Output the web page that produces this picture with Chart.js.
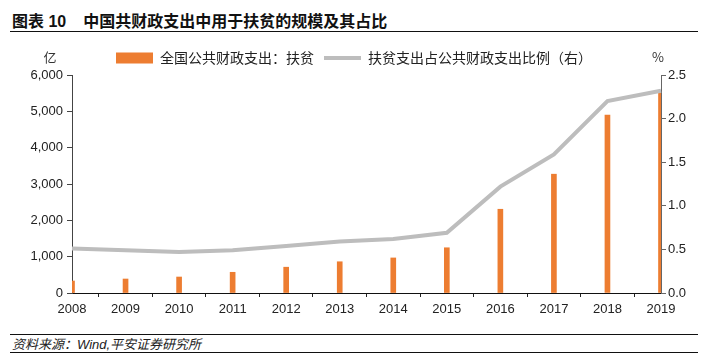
<!DOCTYPE html>
<html>
<head>
<meta charset="utf-8">
<script src="https://cdn.jsdelivr.net/npm/chart.js@4"></script>
<style>
    body { margin: 0; width: 708px; height: 364px; background: #fff; position: relative; overflow: hidden;
           font-family: "Liberation Sans", "Noto Sans CJK SC", sans-serif; color: #111; }
    .title { position: absolute; left: 12px; top: 8px; font-size: 16px; font-weight: bold; white-space: nowrap; }
    .title .num { margin-right: 17px; }
    .rule { position: absolute; left: 10px; width: 688px; height: 0; border-top: 1.5px solid #111; }
    .chart-box { position: absolute; left: 0; top: 35px; width: 708px; height: 295px; }
    .source { position: absolute; left: 12px; top: 334px; font-size: 13px; font-style: italic; color: #222; white-space: nowrap; }
</style>
</head>
<body>
<div class="title"><span class="num">图表 10</span>中国共财政支出中用于扶贫的规模及其占比</div>
<div class="rule" style="top:31px"></div>
<div class="chart-box"><canvas id="chart"></canvas></div>
<div class="rule" style="top:334px"></div>
<div class="source">资料来源：Wind,平安证券研究所</div>
<div class="rule" style="top:352px"></div>

<script>
// 数据
const years = ['2008', '2009', '2010', '2011', '2012', '2013', '2014', '2015', '2016', '2017', '2018', '2019'];
const povertySpending = [330, 385, 440, 570, 710, 860, 965, 1245, 2305, 3270, 4900, 5550];   // 亿元
const povertyShare = [0.51, 0.49, 0.47, 0.49, 0.54, 0.59, 0.62, 0.69, 1.22, 1.59, 2.20, 2.32]; // %
const leftTicks = [0, 1000, 2000, 3000, 4000, 5000, 6000];
const rightTicks = [0, 0.5, 1.0, 1.5, 2.0, 2.5];

const ORANGE = '#ED7D31';
const GREY = '#BDBDBD';
const NUM_FONT = { family: '"Liberation Sans", Arial, sans-serif', size: 13 };
const CJK_FONT = '"Noto Sans CJK SC", sans-serif';

// 坐标轴单位：亿 / %
const unitLabels = {
    id: 'unitLabels',
    afterDraw: function(chart) {
        const ctx = chart.ctx;
        const area = chart.chartArea;
        ctx.save();
        ctx.font = '13px ' + CJK_FONT;
        ctx.fillStyle = '#333';
        ctx.textAlign = 'center';
        ctx.textBaseline = 'middle';
        ctx.fillText('亿', chart.scales.y.right - 22, area.top - 18);
        ctx.fillText('%', chart.scales.y1.left - 3, area.top - 18);
        ctx.restore();
    }
};

const chart = new Chart(document.getElementById('chart').getContext('2d'), {
    type: 'bar',
    data: {
        labels: years,
        datasets: [
            {
                type: 'bar',
                label: '全国公共财政支出：扶贫',
                data: povertySpending,
                backgroundColor: ORANGE,
                borderWidth: 0,
                barThickness: 5,
                yAxisID: 'y',
                order: 1
            },
            {
                type: 'line',
                label: '扶贫支出占公共财政支出比例（右）',
                data: povertyShare,
                borderColor: GREY,
                backgroundColor: GREY,
                borderWidth: 4,
                pointRadius: 0,
                tension: 0,
                yAxisID: 'y1',
                order: 0
            }
        ]
    },
    options: {
        responsive: true,
        maintainAspectRatio: false,
        animation: false,
        layout: { padding: { top: 6, left: 0, right: 0, bottom: 0 } },
        plugins: {
            tooltip: { enabled: false },
            legend: {
                position: 'top',
                labels: {
                    font: { family: CJK_FONT, size: 14 },
                    color: '#222',
                    padding: 10,
                    boxWidth: 37,
                    boxHeight: 11,
                    usePointStyle: true,
                    pointStyleWidth: 37,
                    sort: function(a, b) { return a.datasetIndex - b.datasetIndex; },
                    generateLabels: function(chart) {
                        const items = Chart.defaults.plugins.legend.labels.generateLabels(chart);
                        items.forEach(item => {
                            item.pointStyle = item.datasetIndex === 0 ? 'rect' : 'line';
                        });
                        return items;
                    }
                }
            }
        },
        scales: {
            x: {
                offset: false,
                grid: { display: true, drawOnChartArea: false, drawTicks: true, tickLength: 4, color: '#222' },
                border: { display: true, color: '#111', width: 1 },
                ticks: { font: NUM_FONT, color: '#222', padding: 5, maxRotation: 0, autoSkip: false },
                afterFit: function(scale) { scale.height = 37; }
            },
            y: {
                position: 'left',
                min: 0,
                max: 6000,
                afterBuildTicks: function(scale) { scale.ticks = leftTicks.map(v => ({ value: v })); },
                grid: { display: true, drawOnChartArea: false, drawTicks: true, tickLength: 5, color: '#444' },
                border: { display: true, color: '#444', width: 1 },
                ticks: {
                    font: NUM_FONT,
                    color: '#222',
                    padding: 4,
                    callback: function(value) { return value.toLocaleString('en-US'); }
                },
                afterFit: function(scale) { scale.width = 72; }
            },
            y1: {
                position: 'right',
                min: 0,
                max: 2.5,
                afterBuildTicks: function(scale) { scale.ticks = rightTicks.map(v => ({ value: v })); },
                grid: { display: true, drawOnChartArea: false, drawTicks: true, tickLength: 5, color: '#666' },
                border: { display: true, color: '#666', width: 1 },
                ticks: {
                    font: NUM_FONT,
                    color: '#222',
                    padding: 2,
                    callback: function(value) { return value.toFixed(1); }
                },
                afterFit: function(scale) { scale.width = 47; }
            }
        }
    },
    plugins: [unitLabels]
});
</script>
</body>
</html>
